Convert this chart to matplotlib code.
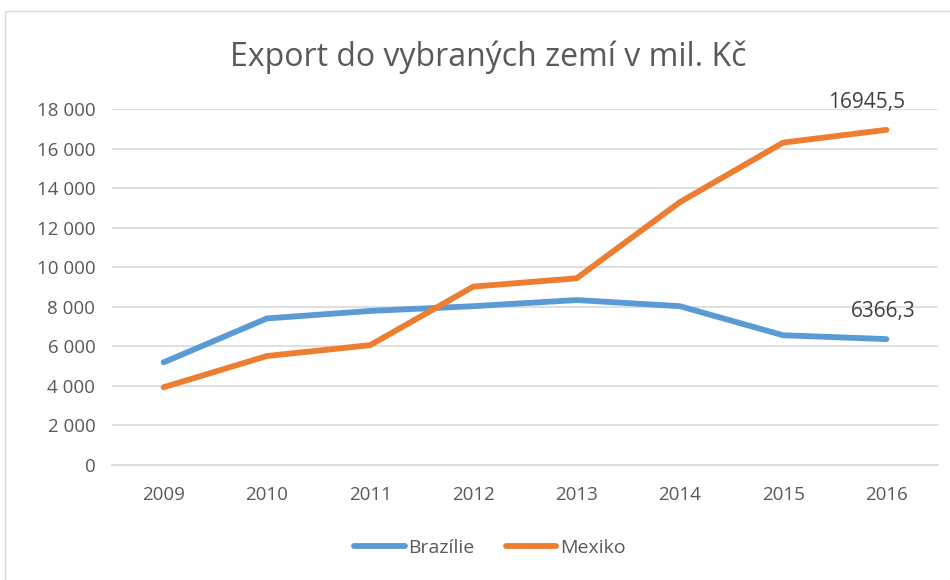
import matplotlib
matplotlib.use("Agg")
import matplotlib.pyplot as plt
from matplotlib.patches import Rectangle
from matplotlib.ticker import FuncFormatter

plt.rcParams['font.family'] = ['Open Sans', 'DejaVu Sans']

# data
years = ['2009', '2010', '2011', '2012', '2013', '2014', '2015', '2016']
brazilie = [5190, 7410, 7790, 8030, 8340, 8030, 6560, 6366.3]
mexiko = [3930, 5510, 6060, 9020, 9440, 13290, 16300, 16945.5]
last_labels = ['6366,3', '16945,5']

text_col = '#595959'
blue = '#5B9BD5'
orange = '#ED7D31'

fig = plt.figure(figsize=(9.5, 5.8), dpi=100)
ax = fig.add_axes([112 / 950, 1 - 465 / 580, (938 - 112) / 950, (465 - 109) / 580])

x = list(range(len(years)))
ax.plot(x, brazilie, color=blue, lw=4.2, solid_capstyle='round', solid_joinstyle='round', label='Brazílie')
ax.plot(x, mexiko, color=orange, lw=4.2, solid_capstyle='round', solid_joinstyle='round', label='Mexiko')

ax.set_xlim(-0.5, len(years) - 0.5)
ax.set_ylim(0, 18000)
ax.set_yticks(range(0, 18001, 2000))
ax.yaxis.set_major_formatter(FuncFormatter(lambda v, p: f"{int(v):,}".replace(',', ' ')))
ax.set_xticks(x)
ax.set_xticklabels(years)

ax.grid(axis='y', color='#D9D9D9', lw=1.2)
ax.set_axisbelow(True)
for s in ['top', 'right', 'left']:
    ax.spines[s].set_visible(False)
ax.spines['bottom'].set_color('#D9D9D9')
ax.spines['bottom'].set_linewidth(1.2)
ax.tick_params(axis='both', length=0, labelsize=13.5, colors=text_col)
ax.tick_params(axis='x', pad=15)
ax.tick_params(axis='y', pad=12)

# data labels on the last points
ax.annotate(last_labels[0], (x[-1], brazilie[-1]), xytext=(-2, 12), textcoords='offset points',
            ha='center', va='bottom', fontsize=15, color='#404040')
ax.annotate(last_labels[1], (x[-1], mexiko[-1]), xytext=(-14, 12), textcoords='offset points',
            ha='center', va='bottom', fontsize=15, color='#404040')

fig.text(488 / 950, 1 - 57 / 580, 'Export do vybraných zemí v mil. Kč', ha='center', va='center',
         fontsize=23, color=text_col)

leg = fig.legend(loc='center', bbox_to_anchor=(490 / 950, 1 - 548 / 580), ncol=2, frameon=False,
                 fontsize=14, handlelength=2.6, columnspacing=1.6, handletextpad=0.2)
for t in leg.get_texts():
    t.set_color(text_col)

fig.patches.append(Rectangle((5 / 950, -0.01), 1.0, 1 - 11 / 580 + 0.01, transform=fig.transFigure,
                             fill=False, edgecolor='#D9D9D9', lw=1.0))

fig.savefig('out.png', dpi=100)
